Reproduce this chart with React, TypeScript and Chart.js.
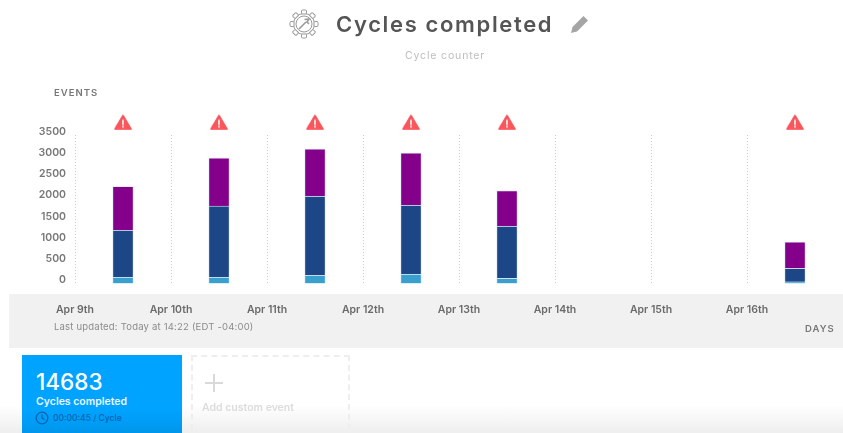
import React, { useEffect, useRef } from "react";
import { Chart, registerables } from "chart.js";

Chart.register(...registerables);

const categories = ["Apr 9", "Apr 10", "Apr 11", "Apr 12", "Apr 13", "Apr 14", "Apr 15", "Apr 16"];
const dayLabels = ["Apr 9th", "Apr 10th", "Apr 11th", "Apr 12th", "Apr 13th", "Apr 14th", "Apr 15th", "Apr 16th", ""];
const lightValues = [153, 153, 193, 224, 123, 0, 0, 42];
const blueValues = [1108, 1675, 1870, 1627, 1233, 0, 0, 316];
const purpleValues = [1032, 1135, 1112, 1229, 835, 0, 0, 622];
const alertMarks = [3800, 3800, 3800, 3800, 3800, null, null, 3800];
const FONT = "Inter, 'Open Sans', sans-serif";

function makeAlertIcon() {
  const c = document.createElement("canvas");
  c.width = 18;
  c.height = 16;
  const g = c.getContext("2d")!;
  g.fillStyle = "#f9575c";
  g.strokeStyle = "#f9575c";
  g.lineWidth = 2;
  g.lineJoin = "round";
  g.beginPath();
  g.moveTo(9, 1.5);
  g.lineTo(16.8, 14.8);
  g.lineTo(1.2, 14.8);
  g.closePath();
  g.fill();
  g.stroke();
  g.fillStyle = "#fff";
  g.fillRect(8.2, 5.5, 1.6, 5.2);
  g.fillRect(8.2, 11.6, 1.6, 1.7);
  return c;
}

const abs = (s: React.CSSProperties): React.CSSProperties => ({ position: "absolute", whiteSpace: "nowrap", fontFamily: FONT, ...s });

function Gear() {
  const teeth = [0, 45, 90, 135, 180, 225, 270, 315];
  return (
    <svg style={{ position: "absolute", left: 289, top: 9 }} width="30" height="30" viewBox="0 0 30 30" fill="none" stroke="#9a9a9a" strokeWidth="1">
      <circle cx="15" cy="15" r="10.5" />
      <circle cx="15" cy="15" r="8" />
      {teeth.map((a) => (
        <rect key={a} x="12.5" y="1" width="5" height="4" rx="1" transform={`rotate(${a} 15 15)`} fill="#fff" />
      ))}
      <path d="M10 20 L17 13 M15.5 10.5 L20 10 L18 13 L20 15" strokeWidth="1.6" />
    </svg>
  );
}

export default function App() {
  const ref = useRef<HTMLCanvasElement>(null);
  useEffect(() => {
    const icon = makeAlertIcon();
    const tickFont = { family: FONT, size: 10.5, weight: 600 as any };
    const bar = (label: string, data: number[], color: string) => ({
      label,
      data,
      stack: "events",
      backgroundColor: color,
      borderColor: "rgba(170,210,240,0.3)",
      borderWidth: 1,
      barThickness: 21,
      xAxisID: "x",
      yAxisID: "y",
    });
    const alertPlugin = {
      id: "alertIcons",
      afterDatasetsDraw(c: any) {
        const { x, y } = c.scales;
        alertMarks.forEach((v, i) => {
          if (v === null) return;
          c.ctx.drawImage(icon, x.getPixelForValue(i) - 9, y.getPixelForValue(v) - 8);
        });
      },
    };
    const chart = new Chart(ref.current!, {
      type: "bar",
      data: {
        labels: categories,
        datasets: [
          bar("Base", lightValues, "#389fcf"),
          bar("Middle", blueValues, "#1d4687"),
          bar("Top", purpleValues, "#85008a"),
        ],
      },
      plugins: [alertPlugin],
      options: {
        responsive: false,
        animation: false,
        layout: { padding: { top: 135, left: 0, right: 0, bottom: 0 } },
        plugins: { legend: { display: false }, tooltip: { enabled: false } },
        scales: {
          x: { display: false, stacked: true, offset: true },
          x2: {
            type: "category",
            labels: dayLabels,
            position: "bottom",
            offset: false,
            grid: { offset: false, color: "#c9c9c9", drawTicks: false },
            border: { display: false, dash: [1, 2] },
            ticks: { color: "#6a6a6a", font: tickFont, padding: 20, maxRotation: 0, autoSkip: false },
            afterFit: (s: any) => {
              s.height = 149.5;
              s.paddingRight = 0;
              s.paddingLeft = 0;
            },
          },
          y: {
            stacked: true,
            min: 0,
            max: 3500,
            grid: { display: false, drawTicks: false },
            border: { display: false },
            ticks: {
              stepSize: 500,
              color: "#777777",
              padding: 9,
              font: { ...tickFont, size: 10.5, lineHeight: "7px" as any },
              callback: (v: any) => [String(v), ""],
            },
            afterFit: (s: any) => { s.width = 75; },
          },
        },
      },
    } as any);
    return () => chart.destroy();
  }, []);

  return (
    <div style={{ position: "fixed", left: 0, top: 0, width: 843, height: 433, overflow: "hidden", background: "#fff" }}>
      <div style={{ position: "absolute", left: 0, top: 405, width: 843, height: 28, background: "linear-gradient(#ffffff, #eeeeee)" }} />
      <div style={{ position: "absolute", left: 9, top: 294, width: 834, height: 54, background: "#f1f1f1" }} />
      <canvas ref={ref} width={843} height={433} style={{ position: "absolute", left: 0, top: 0, display: "block" }} />

      <Gear />
      <div style={abs({ left: 336, top: 10, fontSize: 22, fontWeight: 600, color: "#555", letterSpacing: 1.65, lineHeight: "28px" })}>Cycles completed</div>
      <svg style={{ position: "absolute", left: 569, top: 13 }} width="22" height="22" viewBox="0 0 22 22">
        <path d="M2 20 L3.5 14 L14.5 3 L19 7.5 L8 18.5 Z" fill="#a5a5a5" />
      </svg>
      <div style={abs({ left: 405, top: 49, fontSize: 10.5, color: "#bdbdbd", letterSpacing: 0.85, lineHeight: "14px" })}>Cycle counter</div>
      <div style={abs({ left: 54, top: 87, fontSize: 9.5, fontWeight: 600, color: "#777", letterSpacing: 1, lineHeight: "12px" })}>EVENTS</div>
      <div style={abs({ left: 805, top: 323, fontSize: 9.5, fontWeight: 600, color: "#777", letterSpacing: 1, lineHeight: "12px" })}>DAYS</div>
      <div style={abs({ left: 54, top: 321, fontSize: 9.5, color: "#8b8b8b", letterSpacing: 0.2, lineHeight: "12px" })}>Last updated: Today at 14:22 (EDT -04:00)</div>

      <div style={{ position: "absolute", left: 22, top: 355, width: 160, height: 78, background: "linear-gradient(#00a3ff 70%, #0096ec)" }} />
      <div style={abs({ left: 36, top: 368, fontSize: 22.5, fontWeight: 500, color: "#fff", lineHeight: "28px" })}>14683</div>
      <div style={abs({ left: 36, top: 395, fontSize: 10.5, fontWeight: 600, color: "#e8f6ff", lineHeight: "14px" })}>Cycles completed</div>
      <svg style={{ position: "absolute", left: 35, top: 411 }} width="14" height="14" viewBox="0 0 14 14" fill="none" stroke="#0763b0" strokeWidth="1.3">
        <circle cx="7" cy="7" r="5.8" />
        <path d="M7 3.5 V7 L9.5 8.5" />
      </svg>
      <div style={abs({ left: 53, top: 411, fontSize: 8.5, fontWeight: 500, color: "#0763b0", lineHeight: "14px" })}>00:00:45 / Cycle</div>

      <div style={{ position: "absolute", left: 191, top: 355, width: 155, height: 90, border: "2px dashed #eeeeee" }} />
      <svg style={{ position: "absolute", left: 205, top: 374 }} width="18" height="18" viewBox="0 0 18 18">
        <path d="M9 0 V18 M0 9 H18" stroke="#d9d9d9" strokeWidth="2" />
      </svg>
      <div style={abs({ left: 202, top: 401, fontSize: 10.5, fontWeight: 600, color: "#dcdcdc", lineHeight: "14px" })}>Add custom event</div>
    </div>
  );
}
